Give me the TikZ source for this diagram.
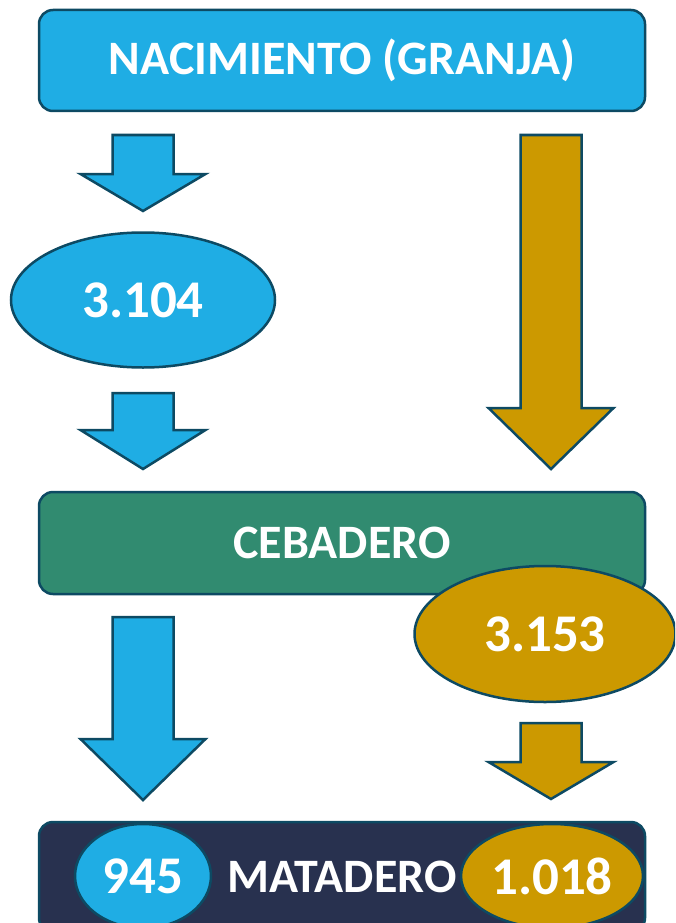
\documentclass[tikz,border=0pt]{standalone}
\usepackage{fontspec}
\setmainfont{Carlito}
\usepackage{tikz}
\usetikzlibrary{positioning,
        shapes.geometric}
\usepackage{xcolor}

\definecolor{granjablue}{HTML}{1FADE4}
\definecolor{cebogold}{HTML}{CC9900}
\definecolor{cebgreen}{HTML}{318B70}
\definecolor{matnavy}{HTML}{28314F}
\definecolor{edgeteal}{HTML}{0D4A63}

% block arrow: colour, x centre, y top, y head, y tip
\newcommand{\flowarrow}[5]{%
    \draw [blockarrow,fill=#1] ({#2-30.5},#3) -- ({#2+30.5},#3) -- ({#2+30.5},#4) -- ({#2+62.5},#4)
        -- (#2,#5) -- ({#2-62.5},#4) -- ({#2-30.5},#4) -- cycle;}

\begin{document}
\begin{tikzpicture}[x=1pt,y=-1pt,
    stagebox/.style={rectangle,rounded corners=14pt,draw=edgeteal,line width=2.5pt,
        text=white,font=\fontsize{48}{52}\selectfont\bfseries,inner sep=0pt},
    countoval/.style={ellipse,draw=edgeteal,line width=2.5pt,inner sep=0pt,
        text=white,font=\fontsize{53}{57}\selectfont\bfseries},
    blockarrow/.style={draw=edgeteal,line width=2.5pt,line join=miter}]
    \useasboundingbox (0,0) rectangle (675,923);
    \clip (0,0) rectangle (675,923);

    \node [stagebox,fill=granjablue,minimum width=606pt,minimum height=101pt] (granja) at (342,60.5) {NACIMIENTO (GRANJA)};

    \flowarrow{granjablue}{143}{135}{174}{211}
    \flowarrow{cebogold}{551}{135}{408}{469}

    \node [countoval,fill=granjablue,minimum width=264pt,minimum height=135pt] (nac) at (143,300) {3.104};

    \flowarrow{granjablue}{143}{393}{430}{469}

    \node [stagebox,fill=cebgreen,minimum width=606pt,minimum height=102pt] (cebadero) at (342,543) {CEBADERO};
    \node [countoval,fill=cebogold,minimum width=261pt,minimum height=136pt] (ceb) at (545,634) {3.153};

    \flowarrow{granjablue}{143}{617}{739}{800}
    \flowarrow{cebogold}{551}{723}{762}{799}

    \node [stagebox,fill=matnavy,minimum width=606pt,minimum height=110pt] (matadero) at (342,877) {MATADERO};
    \node [countoval,fill=granjablue,minimum width=136pt,minimum height=104pt] (matblue) at (143,876) {945};
    \node [countoval,fill=cebogold,minimum width=182pt,minimum height=104pt] (matgold) at (552,876) {1.018};
\end{tikzpicture}
\end{document}
